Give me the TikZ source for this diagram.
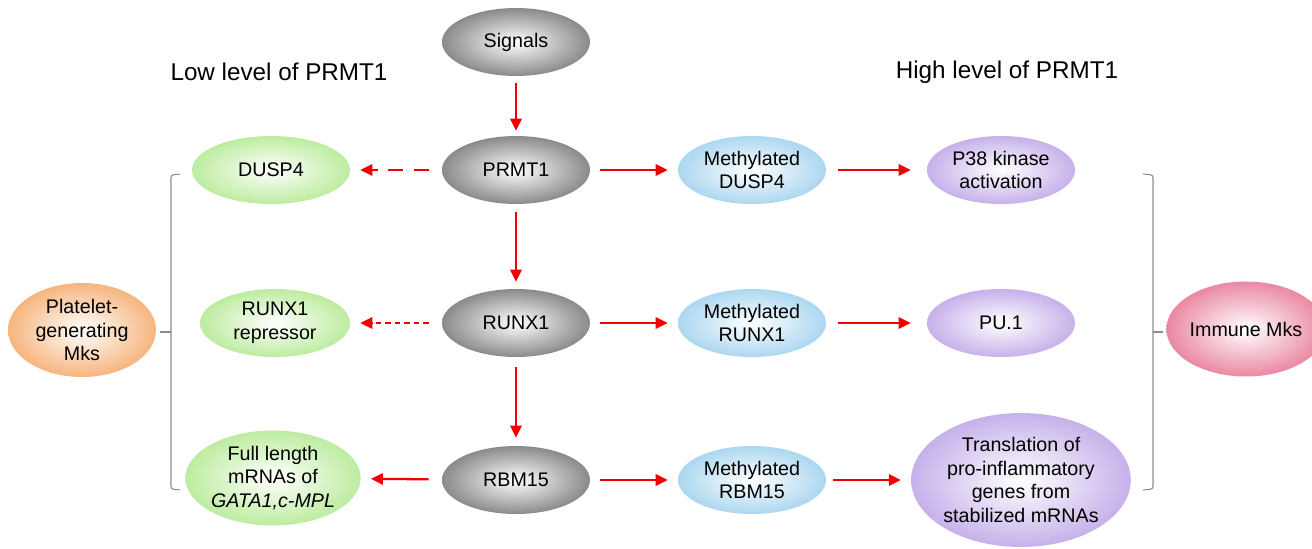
\documentclass[tikz,border=0pt]{standalone}
\usepackage{fontspec}
\setmainfont{Liberation Sans}
\usetikzlibrary{shapes.geometric,arrows.meta}
\definecolor{pmgray}{HTML}{8A8A8A}
\definecolor{pmgreen}{HTML}{BDECA0}
\definecolor{pmblue}{HTML}{ACD7F0}
\definecolor{pmpurple}{HTML}{C6B1EA}
\definecolor{pmorange}{HTML}{F6B57E}
\definecolor{pmpink}{HTML}{EA88A3}
\definecolor{pmred}{HTML}{F20000}
\definecolor{pmbrace}{HTML}{8C8C8C}
\tikzset{
  blob/.style={ellipse, inner sep=0pt, align=center, minimum width=2.96cm, minimum height=1.36cm,
    font=\fontsize{11.2}{13.5}\selectfont, inner color=white, outer color=#1},
  blob/.default=pmgray,
  toplabel/.style={font=\fontsize{13.8}{16}\selectfont},
  arr/.style={draw=pmred, line width=1.3pt, -{Triangle[length=6.8pt,width=6.4pt]},
    shorten <=0.2cm, shorten >=0.2cm},
  brace/.style={draw=pmbrace, line width=0.6pt, rounded corners=1.5pt},
}
\begin{document}
\begin{tikzpicture}[x=0.02cm, y=-0.02cm]
  \useasboundingbox (0,0) rectangle (1312,548);
  % centre column
  \node[blob] (signals) at (516,42) {Signals};
  \node[blob] (prmt) at (516,170) {PRMT1};
  \node[blob] (runx) at (516,323) {RUNX1};
  \node[blob] (rbm) at (516,480) {RBM15};
  % low level side
  \node[toplabel] (lowlbl) at (279,72) {Low level of PRMT1};
  \node[blob=pmgreen, minimum width=3.16cm] (dusp) at (271,170) {DUSP4};
  \node[blob=pmgreen, minimum width=3.0cm] (repr) at (275,323) {RUNX1\\repressor};
  \node[blob=pmgreen, minimum width=3.1cm, minimum height=1.9cm] (mrna) at (273,478) {Full length\\mRNAs of\\\textit{GATA1,c-MPL}};
  \node[blob=pmorange, minimum height=1.88cm] (plt) at (82,330) {Platelet-\\generating\\Mks};
  % high level side
  \node[toplabel] (highlbl) at (1007,72) {High level of PRMT1};
  \node[blob=pmblue] (mdusp) at (752,170) {Methylated\\DUSP4};
  \node[blob=pmblue] (mrunx) at (752,323) {Methylated\\RUNX1};
  \node[blob=pmblue] (mrbm) at (752,480) {Methylated\\RBM15};
  \node[blob=pmpurple] (p38) at (1001,170) {P38 kinase\\activation};
  \node[blob=pmpurple] (pu) at (1001,323) {PU.1};
  \node[blob=pmpurple, minimum width=4.36cm, minimum height=2.68cm] (transl) at (1021,480) {Translation of\\pro-inflammatory\\genes from\\stabilized mRNAs};
  \node[blob=pmpink, minimum width=2.92cm, minimum height=1.9cm] (imm) at (1246,329) {Immune Mks};
  % arrows
  \draw[arr, shorten <=0.14cm, shorten >=0.1cm] (signals) -- (prmt);
  \draw[arr, shorten <=0.16cm, shorten >=0.14cm] (prmt) -- (runx);
  \draw[arr, shorten <=0.2cm, shorten >=0.16cm] (runx) -- (rbm);
  \draw[arr, dash pattern=on 8.5pt off 6pt, shorten <=0.26cm] (prmt) -- (dusp);
  \draw[arr, dash pattern=on 3pt off 2.4pt, shorten <=0.26cm] (runx) -- (repr);
  \draw[arr, shorten <=0.26cm] (rbm) -- (mrna);
  \draw[arr] (prmt) -- (mdusp);
  \draw[arr] (runx) -- (mrunx);
  \draw[arr] (rbm) -- (mrbm);
  \draw[arr, shorten <=0.24cm, shorten >=0.32cm] (mdusp) -- (p38);
  \draw[arr, shorten <=0.24cm, shorten >=0.32cm] (mrunx) -- (pu);
  \draw[arr, shorten <=0.14cm, shorten >=0.2cm] (mrbm) -- (transl);
  % brackets
  \draw[brace] (180,174) -- (171,175) -- (171,489) -- (180,490);
  \draw[brace] (171,332) -- (160,332);
  \draw[brace] (1143,174) -- (1153,175) -- (1153,489) -- (1143,490);
  \draw[brace] (1153,332) -- (1163,332);
\end{tikzpicture}
\end{document}
